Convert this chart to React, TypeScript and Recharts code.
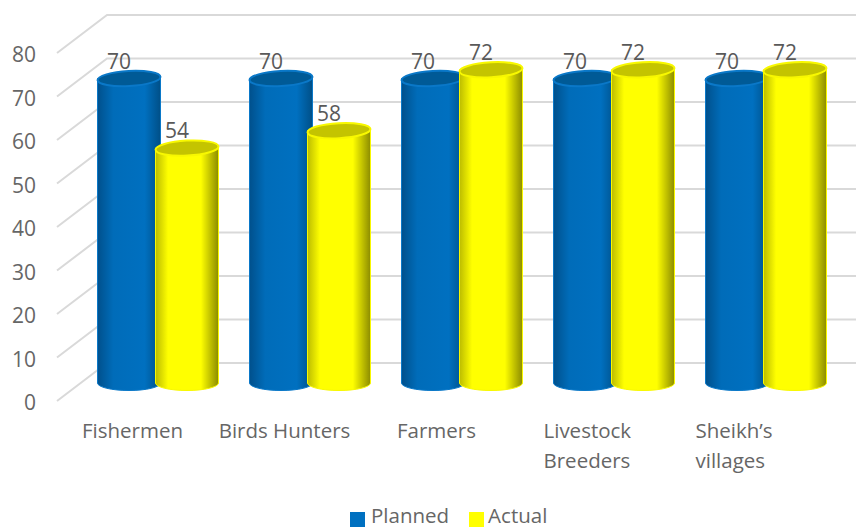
import React from 'react';
import { Bar, BarChart, CartesianGrid, LabelList, Legend, XAxis, YAxis } from 'recharts';

const categories = ['Fishermen', 'Birds Hunters', 'Farmers', 'Livestock Breeders', 'Sheikh’s villages'];
const planned = [70, 70, 70, 70, 70];
const actual = [54, 58, 72, 72, 72];
const valueTicks = [0, 10, 20, 30, 40, 50, 60, 70, 80];

const chartData = categories.map((name, i) => ({ name, planned: planned[i], actual: actual[i] }));

const FONT = '"Open Sans", "Noto Sans", sans-serif';
const GRID = '#d9d9d9';
const WALL_RIGHT = 856;
// Depth of the floor: how far the back wall sits from the front edge.
const DEPTH_X = 50;
const DEPTH_Y = 38;
// Cylinders stand partway back on the floor, so they are lifted off the front edge.
const FLOOR_LIFT = 18;

// Gridline that runs along the side wall and then the back wall.
function WallLine({ y1 }: any) {
  const x0 = 57;
  return (
    <polyline
      points={`${x0},${y1} ${x0 + DEPTH_X},${y1 - DEPTH_Y} ${WALL_RIGHT},${y1 - DEPTH_Y}`}
      fill="none"
      stroke={GRID}
      strokeWidth={2}
    />
  );
}

function ValueTick({ y, payload }: any) {
  return (
    <text x={36} y={y + 9} textAnchor="end" fontFamily={FONT} fontSize={21} fill="#666666">
      {payload.value}
    </text>
  );
}

function CategoryTick({ x, y, payload }: any) {
  const label = String(payload.value);
  const lines = label === 'Birds Hunters' ? [label] : label.split(' ');
  const multi = lines.length > 1;
  return (
    <text textAnchor={multi ? 'start' : 'middle'} fontFamily={FONT} fontSize={20.5} fill="#666666">
      {lines.map((line, i) => (
        <tspan key={line} x={multi ? x - 70 : x - 25} y={y + 29 + i * 30}>
          {line}
        </tspan>
      ))}
    </text>
  );
}

// Cylinder drawn around the rectangle the bar scale hands us.
function Cylinder({ x, y, width, height, body, cap, rim }: any) {
  const rx = width / 2;
  const ry = 7.5;
  const top = y - FLOOR_LIFT;
  const bottom = top + height;
  const d = `M${x},${top} L${x},${bottom} A${rx},${ry} 0 0 0 ${x + width},${bottom} L${x + width},${top} Z`;
  return (
    <g>
      <path d={d} fill={`url(#${body})`} stroke={rim} strokeWidth={1} />
      <ellipse
        cx={x + rx}
        cy={top}
        rx={rx}
        ry={ry}
        fill={cap}
        stroke={rim}
        strokeWidth={2}
        transform={`rotate(-3 ${x + rx} ${top})`}
      />
    </g>
  );
}

function TopLabel({ x, y, width, value }: any) {
  return (
    <text
      x={x + width / 2 - 10}
      y={y - FLOOR_LIFT - 10}
      textAnchor="middle"
      fontFamily={FONT}
      fontSize={21}
      fill="#595959"
    >
      {value}
    </text>
  );
}

export default function App() {
  return (
    <div style={{ position: 'absolute', left: 0, top: 0, width: 856, height: 527, background: '#fff' }}>
      <BarChart
        width={856}
        height={527}
        data={chartData}
        barSize={63}
        barGap={-5}
        barCategoryGap={0}
        margin={{ top: 53, right: 14.5, bottom: 0, left: 80.5 }}
      >
        <defs>
          <linearGradient id="blueBody" x1="0" y1="0" x2="1" y2="0">
            <stop offset="0" stopColor="#00508c" />
            <stop offset="0.25" stopColor="#006cb9" />
            <stop offset="0.75" stopColor="#0070c0" />
            <stop offset="1" stopColor="#004f87" />
          </linearGradient>
          <linearGradient id="yellowBody" x1="0" y1="0" x2="1" y2="0">
            <stop offset="0" stopColor="#bcbc00" />
            <stop offset="0.2" stopColor="#ffff00" />
            <stop offset="0.72" stopColor="#ffff00" />
            <stop offset="1" stopColor="#8c8c00" />
          </linearGradient>
        </defs>
        <CartesianGrid
          vertical={false}
          horizontal={(props: any) => <WallLine key={props.key} {...props} />}
          horizontalValues={valueTicks}
        />
        <XAxis
          dataKey="name"
          axisLine={false}
          tickLine={false}
          interval={0}
          height={90}
          tick={<CategoryTick />}
        />
        <YAxis
          domain={[0, 80]}
          ticks={valueTicks}
          axisLine={false}
          tickLine={false}
          width={1}
          tick={(props: any) => <ValueTick {...props} />}
        />
        <Bar
          dataKey="planned"
          name="Planned"
          fill="#0070c0"
          isAnimationActive={false}
          shape={<Cylinder body="blueBody" cap="#005a96" rim="#0a78c8" />}
        >
          <LabelList dataKey="planned" content={<TopLabel />} />
        </Bar>
        <Bar
          dataKey="actual"
          name="Actual"
          fill="#ffff00"
          isAnimationActive={false}
          shape={<Cylinder body="yellowBody" cap="#c4c400" rim="#f8f800" />}
        >
          <LabelList dataKey="actual" content={<TopLabel />} />
        </Bar>
        <Legend
          verticalAlign="bottom"
          height={36}
          iconType="square"
          iconSize={15}
          itemSorter={null}
          formatter={(value: string) => (
            <span
              style={{
                display: 'inline-block',
                height: 20,
                color: '#666666',
                fontFamily: FONT,
                fontSize: 20.5,
                lineHeight: '20px',
                marginLeft: value === 'Planned' ? 2 : 0,
                paddingRight: value === 'Planned' ? 10 : 0,
              }}
            >
              {value}
            </span>
          )}
          wrapperStyle={{ left: 350, width: 'auto', bottom: -14 }}
        />
      </BarChart>
    </div>
  );
}
